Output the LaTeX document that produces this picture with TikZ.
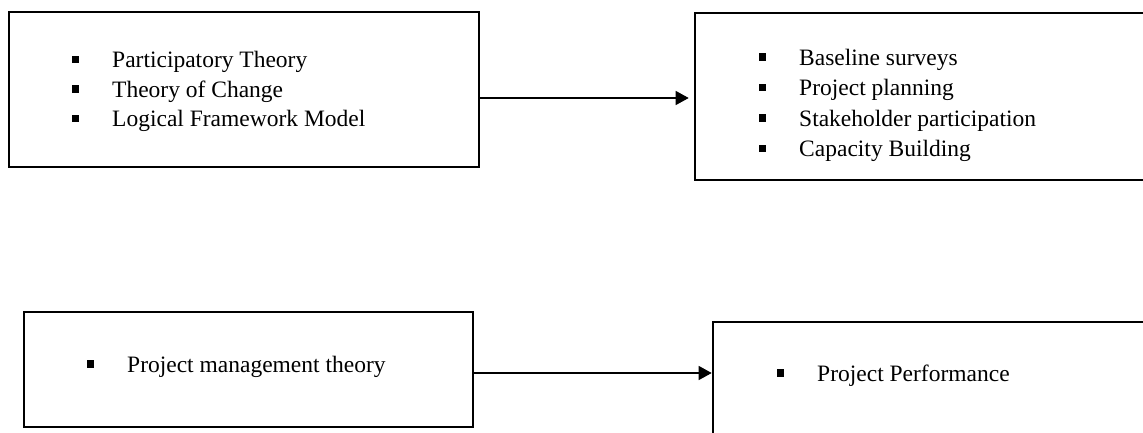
\documentclass[tikz,border=0pt]{standalone}
\usepackage{fontspec}
\setmainfont{Liberation Serif}
\usetikzlibrary{arrows.meta}
\newcommand{\blt}{\makebox[40pt][l]{\rule[4.5pt]{6.5pt}{7.5pt}}}
\tikzset{
  box/.style={draw, line width=2.6pt, inner sep=0pt, rectangle},
  lst/.style={anchor=base west, inner sep=0pt, font=\fontsize{23.5pt}{29.5pt}\selectfont},
  conn/.style={line width=1.3pt, -{Triangle[length=13pt,width=14pt]}}
}
\begin{document}
\begin{tikzpicture}[x=1pt,y=-1pt]
\useasboundingbox (0,0) rectangle (1143,432);
\clip (0,0) rectangle (1143,432);
\fill[white] (0,0) rectangle (1143,432);
% boxes
\node[box, minimum width=470pt, minimum height=155pt] (b1) at (244,89.5) {};
\node[box, minimum width=465pt, minimum height=167pt] (b2) at (927.5,96.5) {};
\node[box, minimum width=449pt, minimum height=115pt] (b3) at (248.5,369.5) {};
\node[box, minimum width=447pt, minimum height=128pt] (b4) at (936.5,386) {};
% texts
\node[lst] (t1) at (72,67.7) {\begin{tabular}[t]{@{}l@{}}\blt Participatory Theory\\ \blt Theory of Change\\ \blt Logical Framework Model\end{tabular}};
\node[lst, font=\fontsize{23.5pt}{30.5pt}\selectfont] (t2) at (759,65) {\begin{tabular}[t]{@{}l@{}}\blt Baseline surveys\\ \blt Project planning\\ \blt Stakeholder participation\\ \blt Capacity Building\end{tabular}};
\node[lst] (t3) at (87,372) {\blt Project management theory};
\node[lst] (t4) at (777,381) {\blt Project Performance};
% connectors
\draw[conn, shorten >=5pt] (b1.east |- 0,98) -- (b2.west |- 0,98);
\draw[conn] (b3.east |- 0,373) -- (b4.west |- 0,373);
\end{tikzpicture}
\end{document}
